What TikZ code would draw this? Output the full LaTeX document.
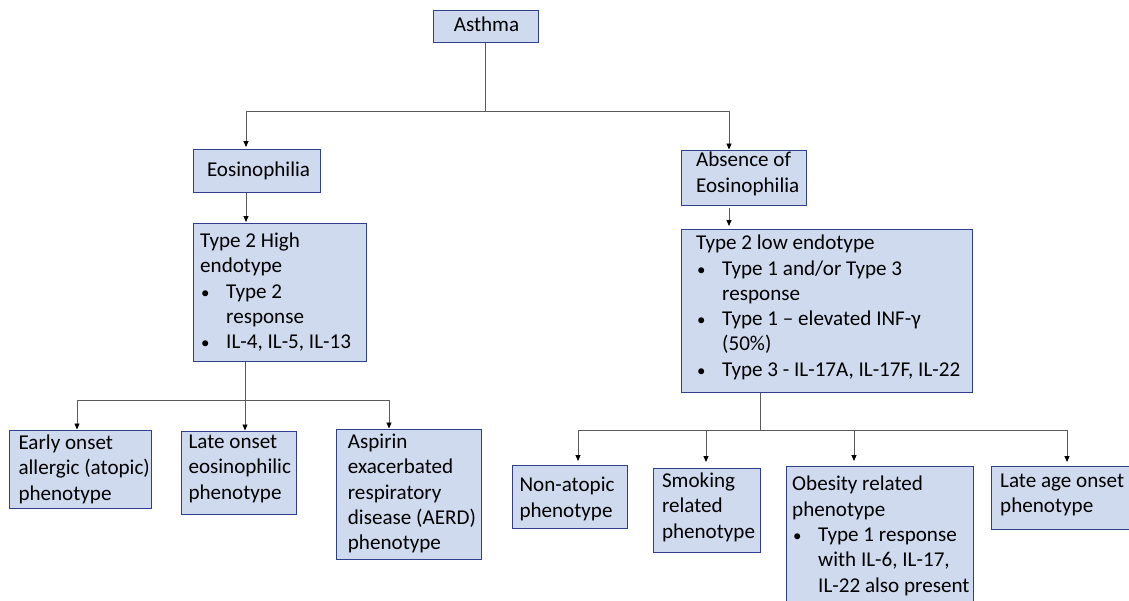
\documentclass[tikz,border=0pt]{standalone}
\usepackage{fontspec}
\setmainfont{Carlito}
\usetikzlibrary{arrows.meta}
\definecolor{boxfill}{RGB}{207,218,238}
\definecolor{boxdraw}{RGB}{47,63,143}
\definecolor{linegray}{RGB}{90,90,90}
\newcommand{\bul}{\makebox[26pt][l]{\hspace{1pt}\scalebox{0.8}{•}}}
\newcommand{\ind}{\makebox[26pt][l]{}}
\begin{document}
\begin{tikzpicture}[x=1pt,y=-1pt,
  box/.style={draw=boxdraw, fill=boxfill, line width=1.2pt, inner sep=0pt, anchor=north west},
  txt/.style={inner sep=0pt, anchor=north west, align=left, font=\fontsize{21.1}{25.3}\selectfont},
  conn/.style={draw=linegray, line width=0.9pt},
  arr/.style={conn, -{Triangle[length=6pt,width=5pt,color=black]}}]
\useasboundingbox (0,0) rectangle (1129,600);
\clip (0,0) rectangle (1129,600);

% boxes
\node[box, minimum width=105pt, minimum height=32pt] (asthma) at (433,10) {};
\node[box, minimum width=127pt, minimum height=43pt] (eos) at (193,149) {};
\node[box, minimum width=125pt, minimum height=55pt] (abs) at (681,150) {};
\node[box, minimum width=173pt, minimum height=138pt] (t2h) at (193,223) {};
\node[box, minimum width=291pt, minimum height=163pt] (t2l) at (681,229) {};
\node[box, minimum width=142pt, minimum height=78pt] (early) at (9,430) {};
\node[box, minimum width=115pt, minimum height=83pt] (late) at (181,431) {};
\node[box, minimum width=145pt, minimum height=130pt] (aspirin) at (336,429) {};
\node[box, minimum width=115pt, minimum height=63pt] (nonat) at (512,465) {};
\node[box, minimum width=107pt, minimum height=84pt] (smoke) at (653,468) {};
\node[box, minimum width=187pt, minimum height=145pt] (obes) at (786,466) {};
\node[box, minimum width=139pt, minimum height=63pt] (lateage) at (991,466) {};

% texts
\node[txt] (asthmaT) at (453.6,14) {\strut Asthma};
\node[txt] (eosT) at (206.8,159) {\strut Eosinophilia};
\node[txt] (absT) at (696,149) {\strut Absence of\\Eosinophilia};
\node[txt] (t2hT) at (200,229.6) {\strut Type 2 High\\endotype\\\bul Type 2\\\ind response\\\bul IL-4, IL-5, IL-13};
\node[txt] (t2lT) at (696,231.8) {\strut Type 2 low endotype\\\bul Type 1 and/or Type 3\\\ind response\\\bul Type 1 – elevated INF-γ\\\ind (50\%)\\\bul Type 3 - IL-17A, IL-17F, IL-22};
\node[txt] (earlyT) at (18.3,431.6) {\strut Early onset\\allergic (atopic)\\phenotype};
\node[txt] (lateT) at (188.3,430.6) {\strut Late onset\\eosinophilic\\phenotype};
\node[txt] (aspirinT) at (347.7,430.6) {\strut Aspirin\\exacerbated\\respiratory\\disease (AERD)\\phenotype};
\node[txt] (nonatT) at (519.3,474) {\strut Non-atopic\\phenotype};
\node[txt] (smokeT) at (661.8,469.6) {\strut Smoking\\related\\phenotype};
\node[txt] (obesT) at (792,473) {\strut Obesity related\\phenotype\\\bul Type 1 response\\\ind with IL-6, IL-17,\\\ind IL-22 also present};
\node[txt] (lateageT) at (1000,469.6) {\strut Late age onset\\phenotype};

% level 1 connectors
\coordinate (h1) at (485,111);
\coordinate (h1L) at (246,111);
\coordinate (h1R) at (729,111);
\draw[conn] (h1 |- asthma.south) -- (h1);
\draw[conn] (h1L) -- (h1R);
\draw[arr, shorten >=2pt] (h1L) -- (h1L |- eos.north);
\draw[arr, shorten >=0.5pt] (h1R) -- (h1R |- abs.north);

% level 2
\draw[arr, shorten >=1pt] (h1L |- eos.south) -- (h1L |- t2h.north);
\draw[arr, shorten <=1.5pt, shorten >=3pt] (h1R |- abs.south) -- (h1R |- t2l.north);

% left branch
\coordinate (h2) at (245,400);
\coordinate (h2L) at (77,400);
\coordinate (h2R) at (389,400);
\draw[conn] (h2 |- t2h.south) -- (h2);
\draw[conn] (h2L) -- (h2R);
\draw[arr, shorten >=0.5pt] (h2L) -- (h2L |- early.north);
\draw[arr, shorten >=0.5pt] (h2) -- (h2 |- late.north);
\draw[arr, shorten >=0.5pt] (h2R) -- (h2R |- aspirin.north);

% right branch
\coordinate (h3) at (760,430);
\coordinate (h3A) at (578,430);
\coordinate (h3B) at (706,430);
\coordinate (h3C) at (854,430);
\coordinate (h3D) at (1067,430);
\draw[conn] (h3 |- t2l.south) -- (h3);
\draw[conn] (h3A) -- (h3D);
\draw[arr, shorten >=4pt] (h3A) -- (h3A |- nonat.north);
\draw[arr, shorten >=6pt] (h3B) -- (h3B |- smoke.north);
\draw[arr, shorten >=5pt] (h3C) -- (h3C |- obes.north);
\draw[arr, shorten >=4pt] (h3D) -- (h3D |- lateage.north);
\end{tikzpicture}
\end{document}
